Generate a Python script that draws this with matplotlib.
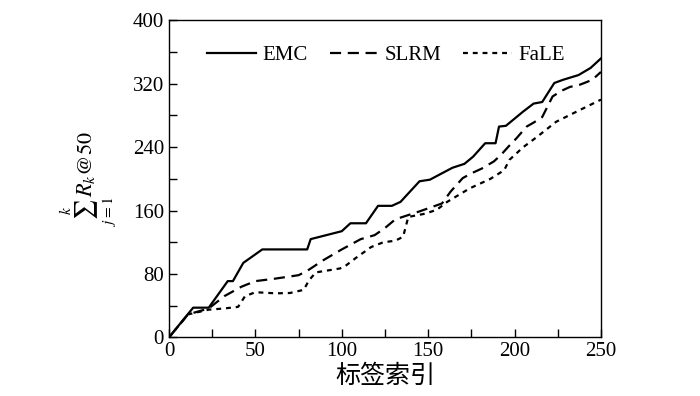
import matplotlib
matplotlib.use("Agg")
import matplotlib.pyplot as plt
from matplotlib.ticker import MultipleLocator

emc_x = [0, 14, 23, 34, 37, 43, 54, 80, 82, 100, 105, 114, 121, 129, 134, 145, 151, 164, 171, 176, 183, 189, 191, 195, 205, 211, 216, 223, 228, 237, 244, 250]
emc_y = [0, 37.5, 37.5, 71, 71, 94, 111, 111, 124, 134, 144, 144, 166, 166, 171, 197, 199, 214, 219, 228, 245, 245, 266, 267, 285, 295, 297, 321, 325, 331, 340, 352]

slrm_x = [0, 11, 23, 32, 42, 50, 61, 75, 80, 89, 100, 111, 119, 125, 131, 145, 158, 163, 170, 175, 181, 188, 192, 197, 201, 207, 211, 216, 222, 227, 232, 238, 245, 250]
slrm_y = [0, 29, 36.5, 52, 64, 71, 74, 78.5, 84, 97, 111, 124, 129, 138, 149, 159, 169, 184, 201, 207, 213, 222, 230, 242, 251, 266, 271, 278, 304, 311, 316, 319, 325, 335]

fale_x = [0, 11, 23, 32, 40, 44, 50, 62, 70, 78, 81, 85, 99, 102, 108, 117, 124, 131, 135.5, 138.5, 148, 155, 161, 174, 186, 194, 197, 205, 213, 224, 236, 250]
fale_y = [0, 29, 35, 36.5, 38.5, 52, 57, 55.6, 56, 60, 72, 82, 87, 90, 100, 114, 120, 122, 127, 152, 156, 161, 171, 188, 200, 211, 224, 240, 253, 272, 285, 300]

series_names = ["EMC", "SLRM", "FaLE"]
x_ticks = [0, 50, 100, 150, 200, 250]
y_ticks = [0, 80, 160, 240, 320, 400]
x_label = "标签索引"
y_label = r"$\sum_{j=1}^{k}R_k@50$"

plt.rcParams['font.family'] = ['Liberation Serif', 'Noto Sans CJK SC', 'DejaVu Sans']
plt.rcParams['mathtext.fontset'] = 'stix'

fig = plt.figure(figsize=(7, 3.96), dpi=100)
ax = fig.add_axes([0.2414, 0.148, 0.6171, 0.8005])

ax.plot(emc_x, emc_y, color='black', lw=1.6, ls='-', label=series_names[0])
ax.plot(slrm_x, slrm_y, color='black', lw=1.6, ls=(0, (5, 3)), label=series_names[1])
ax.plot(fale_x, fale_y, color='black', lw=1.6, ls=(0, (2.2, 2.2)), label=series_names[2])

ax.set_xlim(0, 250)
ax.set_ylim(0, 400)
ax.set_xticks(x_ticks)
ax.set_yticks(y_ticks)
ax.xaxis.set_minor_locator(MultipleLocator(25))
ax.yaxis.set_minor_locator(MultipleLocator(40))
ax.tick_params(which='both', direction='in', top=False, right=False, labelsize=15)
ax.tick_params(which='major', length=6, width=1)
ax.tick_params(which='minor', length=6, width=1)
for s in ax.spines.values():
    s.set_linewidth(1.0)

ax.set_xlabel(x_label, fontsize=18, family=['Noto Sans CJK SC'], labelpad=1)
ax.set_ylabel(y_label, fontsize=16, labelpad=11)

leg = ax.legend(loc='center', bbox_to_anchor=(0.503, 0.89), ncol=3, frameon=False,
                fontsize=15, handlelength=2.35, columnspacing=1.05, handletextpad=0.3,
                borderpad=0, borderaxespad=0)

fig.savefig("out.png", dpi=100)
